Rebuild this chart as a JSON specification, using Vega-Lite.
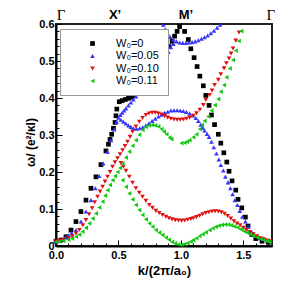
{
  "$schema": "https://vega.github.io/schema/vega-lite/v6.json",
  "width": 216,
  "height": 222,
  "autosize": "none",
  "padding": {"left": 56, "top": 24, "right": 19, "bottom": 45},
  "config": {
    "font": "Liberation Sans",
    "view": {"stroke": "#222", "strokeWidth": 2},
    "axis": {"grid": false, "domainColor": "#000", "domainWidth": 2, "tickColor": "#000", "tickWidth": 1, "labelOverlap": false, "labelFont": "Liberation Sans", "labelFontWeight": "bold", "labelFontSize": 11, "labelColor": "#000", "titleFont": "Liberation Sans", "titleFontWeight": "bold", "titleFontSize": 13, "titleColor": "#000"}
  },
  "resolve": {"axis": {"x": "independent", "y": "independent"}},
  "layer": [
    {
      "data": {"values": [
        {"k":0.0,"w":0.013,"s":"W₀=0"},{"k":0.04,"w":0.016,"s":"W₀=0"},{"k":0.08,"w":0.025,"s":"W₀=0"},{"k":0.12,"w":0.043,"s":"W₀=0"},{"k":0.16,"w":0.066,"s":"W₀=0"},{"k":0.2,"w":0.093,"s":"W₀=0"},{"k":0.24,"w":0.124,"s":"W₀=0"},{"k":0.28,"w":0.156,"s":"W₀=0"},{"k":0.32,"w":0.187,"s":"W₀=0"},{"k":0.36,"w":0.22,"s":"W₀=0"},{"k":0.4,"w":0.257,"s":"W₀=0"},{"k":0.42,"w":0.275,"s":"W₀=0"},{"k":0.433,"w":0.288,"s":"W₀=0"},{"k":0.446,"w":0.302,"s":"W₀=0"},{"k":0.46,"w":0.318,"s":"W₀=0"},{"k":0.473,"w":0.334,"s":"W₀=0"},{"k":0.48,"w":0.352,"s":"W₀=0"},{"k":0.487,"w":0.37,"s":"W₀=0"},{"k":0.507,"w":0.39,"s":"W₀=0"},
        {"k":0.53,"w":0.393,"s":"W₀=0"},{"k":0.555,"w":0.396,"s":"W₀=0"},{"k":0.58,"w":0.399,"s":"W₀=0"},{"k":0.605,"w":0.402,"s":"W₀=0"},{"k":0.63,"w":0.406,"s":"W₀=0"},{"k":0.655,"w":0.412,"s":"W₀=0"},{"k":0.68,"w":0.42,"s":"W₀=0"},{"k":0.705,"w":0.43,"s":"W₀=0"},{"k":0.73,"w":0.44,"s":"W₀=0"},{"k":0.755,"w":0.452,"s":"W₀=0"},{"k":0.78,"w":0.465,"s":"W₀=0"},{"k":0.805,"w":0.478,"s":"W₀=0"},{"k":0.83,"w":0.492,"s":"W₀=0"},{"k":0.855,"w":0.507,"s":"W₀=0"},{"k":0.88,"w":0.522,"s":"W₀=0"},{"k":0.905,"w":0.539,"s":"W₀=0"},{"k":0.93,"w":0.553,"s":"W₀=0"},{"k":0.95,"w":0.567,"s":"W₀=0"},{"k":0.97,"w":0.58,"s":"W₀=0"},{"k":0.99,"w":0.593,"s":"W₀=0"},
        {"k":1.03,"w":0.58,"s":"W₀=0"},{"k":1.06,"w":0.558,"s":"W₀=0"},{"k":1.08,"w":0.533,"s":"W₀=0"},{"k":1.106,"w":0.509,"s":"W₀=0"},{"k":1.13,"w":0.485,"s":"W₀=0"},{"k":1.152,"w":0.459,"s":"W₀=0"},{"k":1.18,"w":0.433,"s":"W₀=0"},{"k":1.2,"w":0.407,"s":"W₀=0"},{"k":1.226,"w":0.38,"s":"W₀=0"},{"k":1.245,"w":0.354,"s":"W₀=0"},{"k":1.27,"w":0.328,"s":"W₀=0"},{"k":1.3,"w":0.302,"s":"W₀=0"},{"k":1.32,"w":0.278,"s":"W₀=0"},{"k":1.344,"w":0.252,"s":"W₀=0"},{"k":1.368,"w":0.227,"s":"W₀=0"},{"k":1.386,"w":0.202,"s":"W₀=0"},{"k":1.41,"w":0.176,"s":"W₀=0"},{"k":1.44,"w":0.151,"s":"W₀=0"},{"k":1.458,"w":0.126,"s":"W₀=0"},{"k":1.488,"w":0.103,"s":"W₀=0"},{"k":1.517,"w":0.078,"s":"W₀=0"},{"k":1.538,"w":0.054,"s":"W₀=0"},{"k":1.568,"w":0.031,"s":"W₀=0"},{"k":1.6,"w":0.02,"s":"W₀=0"},{"k":1.65,"w":0.013,"s":"W₀=0"},{"k":1.7,"w":0.01,"s":"W₀=0"},

        {"k":0.0,"w":0.012,"s":"W₀=0.05"},{"k":0.025,"w":0.014,"s":"W₀=0.05"},{"k":0.05,"w":0.018,"s":"W₀=0.05"},{"k":0.075,"w":0.023,"s":"W₀=0.05"},{"k":0.1,"w":0.029,"s":"W₀=0.05"},{"k":0.125,"w":0.035,"s":"W₀=0.05"},{"k":0.16,"w":0.043,"s":"W₀=0.05"},{"k":0.2,"w":0.066,"s":"W₀=0.05"},{"k":0.24,"w":0.093,"s":"W₀=0.05"},{"k":0.28,"w":0.124,"s":"W₀=0.05"},{"k":0.315,"w":0.156,"s":"W₀=0.05"},{"k":0.346,"w":0.189,"s":"W₀=0.05"},{"k":0.378,"w":0.223,"s":"W₀=0.05"},{"k":0.413,"w":0.255,"s":"W₀=0.05"},{"k":0.44,"w":0.286,"s":"W₀=0.05"},{"k":0.466,"w":0.315,"s":"W₀=0.05"},{"k":0.485,"w":0.335,"s":"W₀=0.05"},{"k":0.5,"w":0.347,"s":"W₀=0.05"},
        {"k":0.52,"w":0.341,"s":"W₀=0.05"},{"k":0.54,"w":0.336,"s":"W₀=0.05"},{"k":0.56,"w":0.331,"s":"W₀=0.05"},{"k":0.58,"w":0.326,"s":"W₀=0.05"},{"k":0.6,"w":0.322,"s":"W₀=0.05"},{"k":0.62,"w":0.318,"s":"W₀=0.05"},{"k":0.645,"w":0.317,"s":"W₀=0.05"},{"k":0.67,"w":0.318,"s":"W₀=0.05"},{"k":0.695,"w":0.321,"s":"W₀=0.05"},{"k":0.72,"w":0.326,"s":"W₀=0.05"},{"k":0.745,"w":0.332,"s":"W₀=0.05"},{"k":0.77,"w":0.338,"s":"W₀=0.05"},{"k":0.795,"w":0.344,"s":"W₀=0.05"},{"k":0.82,"w":0.35,"s":"W₀=0.05"},{"k":0.845,"w":0.355,"s":"W₀=0.05"},{"k":0.87,"w":0.36,"s":"W₀=0.05"},{"k":0.895,"w":0.363,"s":"W₀=0.05"},{"k":0.92,"w":0.366,"s":"W₀=0.05"},{"k":0.945,"w":0.367,"s":"W₀=0.05"},{"k":0.97,"w":0.367,"s":"W₀=0.05"},{"k":0.995,"w":0.366,"s":"W₀=0.05"},{"k":1.02,"w":0.365,"s":"W₀=0.05"},{"k":1.045,"w":0.362,"s":"W₀=0.05"},{"k":1.07,"w":0.358,"s":"W₀=0.05"},{"k":1.095,"w":0.353,"s":"W₀=0.05"},{"k":1.12,"w":0.346,"s":"W₀=0.05"},{"k":1.14,"w":0.338,"s":"W₀=0.05"},{"k":1.16,"w":0.328,"s":"W₀=0.05"},{"k":1.175,"w":0.32,"s":"W₀=0.05"},{"k":1.19,"w":0.312,"s":"W₀=0.05"},{"k":1.21,"w":0.303,"s":"W₀=0.05"},{"k":1.226,"w":0.295,"s":"W₀=0.05"},{"k":1.245,"w":0.282,"s":"W₀=0.05"},{"k":1.264,"w":0.267,"s":"W₀=0.05"},{"k":1.285,"w":0.25,"s":"W₀=0.05"},{"k":1.304,"w":0.234,"s":"W₀=0.05"},{"k":1.32,"w":0.219,"s":"W₀=0.05"},{"k":1.34,"w":0.204,"s":"W₀=0.05"},{"k":1.357,"w":0.187,"s":"W₀=0.05"},{"k":1.378,"w":0.172,"s":"W₀=0.05"},{"k":1.397,"w":0.156,"s":"W₀=0.05"},{"k":1.414,"w":0.14,"s":"W₀=0.05"},{"k":1.432,"w":0.124,"s":"W₀=0.05"},{"k":1.453,"w":0.111,"s":"W₀=0.05"},{"k":1.472,"w":0.095,"s":"W₀=0.05"},{"k":1.493,"w":0.079,"s":"W₀=0.05"},{"k":1.517,"w":0.066,"s":"W₀=0.05"},{"k":1.538,"w":0.052,"s":"W₀=0.05"},{"k":1.565,"w":0.039,"s":"W₀=0.05"},{"k":1.6,"w":0.027,"s":"W₀=0.05"},{"k":1.63,"w":0.021,"s":"W₀=0.05"},{"k":1.66,"w":0.018,"s":"W₀=0.05"},{"k":1.69,"w":0.015,"s":"W₀=0.05"},{"k":1.71,"w":0.014,"s":"W₀=0.05"},
        {"k":0.515,"w":0.354,"s":"W₀=0.05"},{"k":0.53,"w":0.36,"s":"W₀=0.05"},{"k":0.545,"w":0.366,"s":"W₀=0.05"},{"k":0.56,"w":0.372,"s":"W₀=0.05"},{"k":0.58,"w":0.38,"s":"W₀=0.05"},{"k":0.6,"w":0.388,"s":"W₀=0.05"},{"k":0.62,"w":0.396,"s":"W₀=0.05"},{"k":0.64,"w":0.404,"s":"W₀=0.05"},{"k":0.66,"w":0.412,"s":"W₀=0.05"},{"k":0.68,"w":0.42,"s":"W₀=0.05"},{"k":0.705,"w":0.43,"s":"W₀=0.05"},{"k":0.73,"w":0.441,"s":"W₀=0.05"},{"k":0.755,"w":0.452,"s":"W₀=0.05"},{"k":0.78,"w":0.463,"s":"W₀=0.05"},{"k":0.805,"w":0.475,"s":"W₀=0.05"},{"k":0.83,"w":0.487,"s":"W₀=0.05"},{"k":0.855,"w":0.5,"s":"W₀=0.05"},{"k":0.88,"w":0.513,"s":"W₀=0.05"},{"k":0.9,"w":0.525,"s":"W₀=0.05"},{"k":0.92,"w":0.537,"s":"W₀=0.05"},{"k":0.94,"w":0.546,"s":"W₀=0.05"},
        {"k":0.86,"w":0.598,"s":"W₀=0.05"},{"k":0.875,"w":0.586,"s":"W₀=0.05"},{"k":0.895,"w":0.574,"s":"W₀=0.05"},{"k":0.915,"w":0.565,"s":"W₀=0.05"},{"k":0.94,"w":0.558,"s":"W₀=0.05"},{"k":0.965,"w":0.553,"s":"W₀=0.05"},{"k":0.99,"w":0.55,"s":"W₀=0.05"},{"k":1.015,"w":0.549,"s":"W₀=0.05"},{"k":1.04,"w":0.549,"s":"W₀=0.05"},{"k":1.065,"w":0.55,"s":"W₀=0.05"},{"k":1.09,"w":0.551,"s":"W₀=0.05"},{"k":1.115,"w":0.553,"s":"W₀=0.05"},{"k":1.14,"w":0.556,"s":"W₀=0.05"},{"k":1.165,"w":0.56,"s":"W₀=0.05"},{"k":1.19,"w":0.564,"s":"W₀=0.05"},{"k":1.215,"w":0.569,"s":"W₀=0.05"},{"k":1.24,"w":0.575,"s":"W₀=0.05"},{"k":1.265,"w":0.582,"s":"W₀=0.05"},{"k":1.29,"w":0.59,"s":"W₀=0.05"},{"k":1.315,"w":0.598,"s":"W₀=0.05"},

        {"k":0.0,"w":0.012,"s":"W₀=0.10"},{"k":0.027,"w":0.014,"s":"W₀=0.10"},{"k":0.06,"w":0.017,"s":"W₀=0.10"},{"k":0.1,"w":0.021,"s":"W₀=0.10"},{"k":0.13,"w":0.026,"s":"W₀=0.10"},{"k":0.16,"w":0.034,"s":"W₀=0.10"},{"k":0.187,"w":0.043,"s":"W₀=0.10"},{"k":0.215,"w":0.056,"s":"W₀=0.10"},{"k":0.24,"w":0.07,"s":"W₀=0.10"},{"k":0.265,"w":0.086,"s":"W₀=0.10"},{"k":0.29,"w":0.102,"s":"W₀=0.10"},{"k":0.31,"w":0.118,"s":"W₀=0.10"},{"k":0.333,"w":0.133,"s":"W₀=0.10"},{"k":0.353,"w":0.147,"s":"W₀=0.10"},{"k":0.373,"w":0.16,"s":"W₀=0.10"},{"k":0.393,"w":0.174,"s":"W₀=0.10"},{"k":0.413,"w":0.187,"s":"W₀=0.10"},{"k":0.433,"w":0.2,"s":"W₀=0.10"},{"k":0.453,"w":0.214,"s":"W₀=0.10"},{"k":0.473,"w":0.226,"s":"W₀=0.10"},{"k":0.493,"w":0.237,"s":"W₀=0.10"},{"k":0.513,"w":0.248,"s":"W₀=0.10"},{"k":0.533,"w":0.259,"s":"W₀=0.10"},{"k":0.553,"w":0.27,"s":"W₀=0.10"},{"k":0.573,"w":0.282,"s":"W₀=0.10"},{"k":0.593,"w":0.295,"s":"W₀=0.10"},{"k":0.613,"w":0.309,"s":"W₀=0.10"},{"k":0.64,"w":0.323,"s":"W₀=0.10"},{"k":0.667,"w":0.336,"s":"W₀=0.10"},{"k":0.693,"w":0.346,"s":"W₀=0.10"},{"k":0.72,"w":0.354,"s":"W₀=0.10"},{"k":0.745,"w":0.358,"s":"W₀=0.10"},{"k":0.77,"w":0.36,"s":"W₀=0.10"},{"k":0.795,"w":0.36,"s":"W₀=0.10"},{"k":0.82,"w":0.358,"s":"W₀=0.10"},{"k":0.845,"w":0.355,"s":"W₀=0.10"},{"k":0.87,"w":0.351,"s":"W₀=0.10"},{"k":0.895,"w":0.347,"s":"W₀=0.10"},{"k":0.92,"w":0.344,"s":"W₀=0.10"},{"k":0.945,"w":0.342,"s":"W₀=0.10"},{"k":0.97,"w":0.341,"s":"W₀=0.10"},{"k":0.995,"w":0.341,"s":"W₀=0.10"},{"k":1.02,"w":0.342,"s":"W₀=0.10"},{"k":1.045,"w":0.344,"s":"W₀=0.10"},{"k":1.07,"w":0.347,"s":"W₀=0.10"},{"k":1.1,"w":0.352,"s":"W₀=0.10"},{"k":1.125,"w":0.359,"s":"W₀=0.10"},{"k":1.152,"w":0.368,"s":"W₀=0.10"},{"k":1.18,"w":0.381,"s":"W₀=0.10"},{"k":1.2,"w":0.395,"s":"W₀=0.10"},{"k":1.23,"w":0.408,"s":"W₀=0.10"},{"k":1.25,"w":0.42,"s":"W₀=0.10"},{"k":1.27,"w":0.435,"s":"W₀=0.10"},{"k":1.3,"w":0.449,"s":"W₀=0.10"},{"k":1.32,"w":0.464,"s":"W₀=0.10"},{"k":1.346,"w":0.48,"s":"W₀=0.10"},{"k":1.365,"w":0.494,"s":"W₀=0.10"},{"k":1.386,"w":0.507,"s":"W₀=0.10"},{"k":1.402,"w":0.52,"s":"W₀=0.10"},{"k":1.418,"w":0.534,"s":"W₀=0.10"},{"k":1.44,"w":0.555,"s":"W₀=0.10"},{"k":1.466,"w":0.577,"s":"W₀=0.10"},
        {"k":0.52,"w":0.224,"s":"W₀=0.10"},{"k":0.54,"w":0.214,"s":"W₀=0.10"},{"k":0.56,"w":0.203,"s":"W₀=0.10"},{"k":0.587,"w":0.187,"s":"W₀=0.10"},{"k":0.613,"w":0.171,"s":"W₀=0.10"},{"k":0.64,"w":0.156,"s":"W₀=0.10"},{"k":0.667,"w":0.144,"s":"W₀=0.10"},{"k":0.693,"w":0.133,"s":"W₀=0.10"},{"k":0.72,"w":0.122,"s":"W₀=0.10"},{"k":0.747,"w":0.111,"s":"W₀=0.10"},{"k":0.773,"w":0.103,"s":"W₀=0.10"},{"k":0.8,"w":0.095,"s":"W₀=0.10"},{"k":0.827,"w":0.089,"s":"W₀=0.10"},{"k":0.853,"w":0.084,"s":"W₀=0.10"},{"k":0.88,"w":0.079,"s":"W₀=0.10"},{"k":0.905,"w":0.075,"s":"W₀=0.10"},{"k":0.93,"w":0.072,"s":"W₀=0.10"},{"k":0.955,"w":0.07,"s":"W₀=0.10"},{"k":0.98,"w":0.069,"s":"W₀=0.10"},{"k":1.005,"w":0.068,"s":"W₀=0.10"},{"k":1.03,"w":0.069,"s":"W₀=0.10"},{"k":1.055,"w":0.071,"s":"W₀=0.10"},{"k":1.08,"w":0.073,"s":"W₀=0.10"},{"k":1.1,"w":0.075,"s":"W₀=0.10"},{"k":1.125,"w":0.078,"s":"W₀=0.10"},{"k":1.15,"w":0.082,"s":"W₀=0.10"},{"k":1.175,"w":0.086,"s":"W₀=0.10"},{"k":1.2,"w":0.089,"s":"W₀=0.10"},{"k":1.225,"w":0.091,"s":"W₀=0.10"},{"k":1.25,"w":0.093,"s":"W₀=0.10"},{"k":1.275,"w":0.094,"s":"W₀=0.10"},{"k":1.3,"w":0.093,"s":"W₀=0.10"},{"k":1.325,"w":0.091,"s":"W₀=0.10"},{"k":1.35,"w":0.087,"s":"W₀=0.10"},{"k":1.375,"w":0.081,"s":"W₀=0.10"},{"k":1.4,"w":0.074,"s":"W₀=0.10"},{"k":1.425,"w":0.067,"s":"W₀=0.10"},{"k":1.45,"w":0.061,"s":"W₀=0.10"},{"k":1.475,"w":0.056,"s":"W₀=0.10"},{"k":1.5,"w":0.049,"s":"W₀=0.10"},{"k":1.525,"w":0.043,"s":"W₀=0.10"},{"k":1.55,"w":0.038,"s":"W₀=0.10"},{"k":1.58,"w":0.032,"s":"W₀=0.10"},{"k":1.61,"w":0.026,"s":"W₀=0.10"},{"k":1.64,"w":0.021,"s":"W₀=0.10"},{"k":1.665,"w":0.018,"s":"W₀=0.10"},{"k":1.69,"w":0.015,"s":"W₀=0.10"},{"k":1.71,"w":0.013,"s":"W₀=0.10"},

        {"k":0.0,"w":0.011,"s":"W₀=0.11"},{"k":0.027,"w":0.012,"s":"W₀=0.11"},{"k":0.06,"w":0.014,"s":"W₀=0.11"},{"k":0.1,"w":0.017,"s":"W₀=0.11"},{"k":0.13,"w":0.02,"s":"W₀=0.11"},{"k":0.16,"w":0.025,"s":"W₀=0.11"},{"k":0.187,"w":0.031,"s":"W₀=0.11"},{"k":0.213,"w":0.039,"s":"W₀=0.11"},{"k":0.24,"w":0.049,"s":"W₀=0.11"},{"k":0.267,"w":0.061,"s":"W₀=0.11"},{"k":0.293,"w":0.074,"s":"W₀=0.11"},{"k":0.32,"w":0.088,"s":"W₀=0.11"},{"k":0.347,"w":0.104,"s":"W₀=0.11"},{"k":0.373,"w":0.12,"s":"W₀=0.11"},{"k":0.393,"w":0.136,"s":"W₀=0.11"},{"k":0.413,"w":0.151,"s":"W₀=0.11"},{"k":0.433,"w":0.165,"s":"W₀=0.11"},{"k":0.453,"w":0.178,"s":"W₀=0.11"},{"k":0.473,"w":0.189,"s":"W₀=0.11"},{"k":0.493,"w":0.2,"s":"W₀=0.11"},{"k":0.513,"w":0.211,"s":"W₀=0.11"},{"k":0.533,"w":0.223,"s":"W₀=0.11"},{"k":0.56,"w":0.239,"s":"W₀=0.11"},{"k":0.587,"w":0.255,"s":"W₀=0.11"},{"k":0.613,"w":0.271,"s":"W₀=0.11"},{"k":0.64,"w":0.286,"s":"W₀=0.11"},{"k":0.667,"w":0.301,"s":"W₀=0.11"},{"k":0.693,"w":0.314,"s":"W₀=0.11"},{"k":0.72,"w":0.322,"s":"W₀=0.11"},{"k":0.745,"w":0.326,"s":"W₀=0.11"},{"k":0.77,"w":0.327,"s":"W₀=0.11"},{"k":0.795,"w":0.326,"s":"W₀=0.11"},{"k":0.82,"w":0.323,"s":"W₀=0.11"},{"k":0.845,"w":0.316,"s":"W₀=0.11"},{"k":0.865,"w":0.309,"s":"W₀=0.11"},{"k":0.885,"w":0.302,"s":"W₀=0.11"},{"k":0.91,"w":0.293,"s":"W₀=0.11"},{"k":0.925,"w":0.289,"s":"W₀=0.11"},
        {"k":1.005,"w":0.278,"s":"W₀=0.11"},{"k":1.03,"w":0.279,"s":"W₀=0.11"},{"k":1.05,"w":0.282,"s":"W₀=0.11"},{"k":1.07,"w":0.286,"s":"W₀=0.11"},{"k":1.1,"w":0.294,"s":"W₀=0.11"},{"k":1.125,"w":0.302,"s":"W₀=0.11"},{"k":1.152,"w":0.316,"s":"W₀=0.11"},{"k":1.17,"w":0.327,"s":"W₀=0.11"},{"k":1.19,"w":0.338,"s":"W₀=0.11"},{"k":1.218,"w":0.35,"s":"W₀=0.11"},{"k":1.245,"w":0.366,"s":"W₀=0.11"},{"k":1.272,"w":0.381,"s":"W₀=0.11"},{"k":1.3,"w":0.397,"s":"W₀=0.11"},{"k":1.32,"w":0.417,"s":"W₀=0.11"},{"k":1.346,"w":0.435,"s":"W₀=0.11"},{"k":1.365,"w":0.456,"s":"W₀=0.11"},{"k":1.392,"w":0.48,"s":"W₀=0.11"},{"k":1.418,"w":0.503,"s":"W₀=0.11"},{"k":1.44,"w":0.528,"s":"W₀=0.11"},{"k":1.464,"w":0.554,"s":"W₀=0.11"},{"k":1.485,"w":0.581,"s":"W₀=0.11"},
        {"k":0.533,"w":0.178,"s":"W₀=0.11"},{"k":0.56,"w":0.16,"s":"W₀=0.11"},{"k":0.587,"w":0.142,"s":"W₀=0.11"},{"k":0.613,"w":0.126,"s":"W₀=0.11"},{"k":0.64,"w":0.111,"s":"W₀=0.11"},{"k":0.667,"w":0.097,"s":"W₀=0.11"},{"k":0.693,"w":0.084,"s":"W₀=0.11"},{"k":0.72,"w":0.072,"s":"W₀=0.11"},{"k":0.747,"w":0.061,"s":"W₀=0.11"},{"k":0.773,"w":0.052,"s":"W₀=0.11"},{"k":0.8,"w":0.043,"s":"W₀=0.11"},{"k":0.827,"w":0.036,"s":"W₀=0.11"},{"k":0.853,"w":0.03,"s":"W₀=0.11"},{"k":0.88,"w":0.023,"s":"W₀=0.11"},{"k":0.905,"w":0.017,"s":"W₀=0.11"},{"k":0.93,"w":0.011,"s":"W₀=0.11"},{"k":0.955,"w":0.007,"s":"W₀=0.11"},{"k":0.98,"w":0.004,"s":"W₀=0.11"},{"k":1.005,"w":0.003,"s":"W₀=0.11"},{"k":1.03,"w":0.005,"s":"W₀=0.11"},{"k":1.055,"w":0.008,"s":"W₀=0.11"},{"k":1.08,"w":0.012,"s":"W₀=0.11"},{"k":1.1,"w":0.016,"s":"W₀=0.11"},{"k":1.125,"w":0.021,"s":"W₀=0.11"},{"k":1.15,"w":0.027,"s":"W₀=0.11"},{"k":1.175,"w":0.032,"s":"W₀=0.11"},{"k":1.2,"w":0.037,"s":"W₀=0.11"},{"k":1.23,"w":0.043,"s":"W₀=0.11"},{"k":1.255,"w":0.048,"s":"W₀=0.11"},{"k":1.28,"w":0.052,"s":"W₀=0.11"},{"k":1.305,"w":0.055,"s":"W₀=0.11"},{"k":1.33,"w":0.057,"s":"W₀=0.11"},{"k":1.355,"w":0.058,"s":"W₀=0.11"},{"k":1.38,"w":0.058,"s":"W₀=0.11"},{"k":1.405,"w":0.056,"s":"W₀=0.11"},{"k":1.43,"w":0.053,"s":"W₀=0.11"},{"k":1.455,"w":0.05,"s":"W₀=0.11"},{"k":1.48,"w":0.045,"s":"W₀=0.11"},{"k":1.505,"w":0.04,"s":"W₀=0.11"},{"k":1.53,"w":0.036,"s":"W₀=0.11"},{"k":1.555,"w":0.032,"s":"W₀=0.11"},{"k":1.58,"w":0.028,"s":"W₀=0.11"},{"k":1.61,"w":0.023,"s":"W₀=0.11"},{"k":1.64,"w":0.019,"s":"W₀=0.11"},{"k":1.665,"w":0.016,"s":"W₀=0.11"},{"k":1.69,"w":0.013,"s":"W₀=0.11"},{"k":1.71,"w":0.011,"s":"W₀=0.11"}
      ]},
      "mark": {"type": "point", "filled": true, "opacity": 1, "size": 22},
      "encoding": {
        "x": {"field": "k", "type": "quantitative", "scale": {"domain": [0, 1.73], "nice": false, "zero": false},
          "axis": {"orient": "bottom", "title": "k/(2π/a₀)", "values": [0, 0.5, 1.0, 1.5], "format": ".1f", "tickSize": -6,
            "labelPadding": 9, "titlePadding": 4, "labelFlush": false}},
        "y": {"field": "w", "type": "quantitative", "scale": {"domain": [0, 0.6], "nice": false},
          "axis": {"orient": "left", "title": "ω/ (e²/κl)", "titleFontSize": 12, "values": [0, 0.1, 0.2, 0.3, 0.4, 0.5, 0.6], "format": ".1~f", "tickSize": -6,
            "labelPadding": 8, "titleX": -19, "titleY": 118, "labelFlush": false}},
        "color": {"field": "s", "type": "nominal", "sort": ["W₀=0", "W₀=0.05", "W₀=0.10", "W₀=0.11"],
          "scale": {"domain": ["W₀=0", "W₀=0.05", "W₀=0.10", "W₀=0.11"], "range": ["#000000", "#3535ff", "#e01010", "#10c810"]},
          "legend": {"title": null, "orient": "none", "legendX": 4, "legendY": 5, "fillColor": "#ffffff", "strokeColor": "#999999", "padding": 9, "symbolOffset": 18, "labelFontSize": 11, "labelColor": "#000", "labelOffset": 18, "rowPadding": 0.5, "symbolSize": 22}},
        "shape": {"field": "s", "type": "nominal",
          "scale": {"domain": ["W₀=0", "W₀=0.05", "W₀=0.10", "W₀=0.11"], "range": ["square", "triangle-up", "triangle-down", "triangle-left"]}}
      }
    },
    {
      "data": {"values": [{"k": 0.04, "w": 0.624, "t": "Γ"}, {"k": 1.72, "w": 0.624, "t": "Γ"}]},
      "mark": {"type": "text", "font": "Liberation Serif", "fontSize": 15, "color": "#000", "baseline": "middle"},
      "encoding": {
        "x": {"field": "k", "type": "quantitative",
          "axis": {"orient": "bottom", "values": [0.1,0.2,0.3,0.4,0.6,0.7,0.8,0.9,1.1,1.2,1.3,1.4,1.6,1.7], "tickSize": -3, "labels": false, "domain": false, "title": null}},
        "y": {"field": "w", "type": "quantitative",
          "axis": {"orient": "left", "values": [0.02,0.04,0.06,0.08,0.12,0.14,0.16,0.18,0.22,0.24,0.26,0.28,0.32,0.34,0.36,0.38,0.42,0.44,0.46,0.48,0.52,0.54,0.56,0.58], "tickSize": -3, "labels": false, "domain": false, "title": null}},
        "text": {"field": "t"}}
    },
    {
      "data": {"values": [{"k": 0.473, "w": 0.624, "t": "X’"}, {"k": 1.04, "w": 0.624, "t": "M’"}]},
      "mark": {"type": "text", "font": "Liberation Sans", "fontWeight": "bold", "fontSize": 13, "color": "#000", "baseline": "middle"},
      "encoding": {"x": {"field": "k", "type": "quantitative", "axis": null}, "y": {"field": "w", "type": "quantitative", "axis": null}, "text": {"field": "t"}}
    }
  ]
}
